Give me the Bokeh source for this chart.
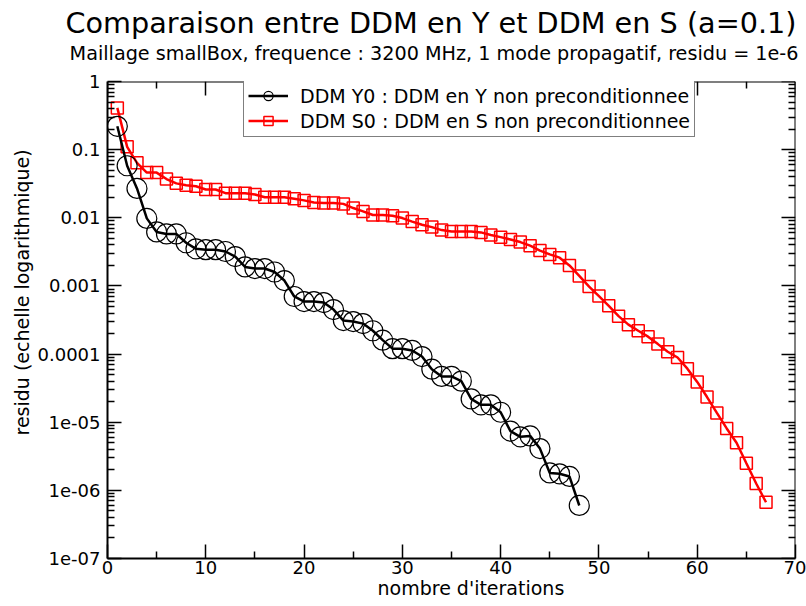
from bokeh.plotting import figure
from bokeh.models import (Range1d, LogAxis, LinearAxis, FixedTicker, CustomJSTickFormatter,
                          Legend, LegendItem, ColumnDataSource, LogScale, Title)
from bokeh.embed import file_html
from bokeh.resources import INLINE

# ---------------- data ----------------
iter_y0 = list(range(1, 49))
res_y0 = [0.22, 0.058, 0.027, 0.0098, 0.0062, 0.0058, 0.0058, 0.0043, 0.0035, 0.0034,
          0.0034, 0.0032, 0.0027, 0.0019, 0.0018, 0.0018, 0.0016, 0.0012, 0.0007, 0.00059,
          0.00059, 0.00057, 0.00045, 0.00031, 0.0003, 0.00028, 0.00022, 0.00016, 0.00012, 0.00012,
          0.000113, 0.000092, 0.00006, 0.000047, 0.000047, 0.00004, 0.000022, 0.000018, 0.000018, 0.000014,
          7.4e-6, 6.1e-6, 6.3e-6, 4.1e-6, 1.8e-6, 1.75e-6, 1.6e-6, 6e-7]

iter_s0 = list(range(1, 68))
res_s0 = [0.41, 0.11, 0.064, 0.046, 0.046, 0.037, 0.032, 0.030, 0.029, 0.026,
          0.026, 0.023, 0.023, 0.023, 0.022, 0.020, 0.020, 0.020, 0.019, 0.018,
          0.0168, 0.0165, 0.0165, 0.016, 0.0139, 0.0124, 0.011, 0.011, 0.0107, 0.0099,
          0.0088, 0.0079, 0.0073, 0.0066, 0.0063, 0.0063, 0.0063, 0.0061, 0.0056, 0.0052,
          0.0048, 0.0044, 0.0039, 0.0033, 0.0029, 0.0026, 0.0020, 0.0014, 0.00098, 0.00071,
          0.00051, 0.00036, 0.00027, 0.00022, 0.00018, 0.00014, 0.000108, 0.000089, 0.000061, 0.000039,
          0.0000234, 0.0000137, 0.0000081, 0.000005, 0.0000025, 0.00000126, 6.7e-7]

label_y0 = "DDM Y0 : DDM en Y non preconditionnee"
label_s0 = "DDM S0 : DDM en S non preconditionnee"

y_ticks = [1e-7, 1e-6, 1e-5, 1e-4, 1e-3, 1e-2, 1e-1, 1.0]
y_tick_labels = ["1e-07", "1e-06", "1e-05", "0.0001", "0.001", "0.01", "0.1", "1"]
x_ticks = [0, 10, 20, 30, 40, 50, 60, 70]
x_minor_ticks = [5, 15, 25, 35, 45, 55, 65]

title_text = "Comparaison entre DDM en Y et DDM en S (a=0.1)"
subtitle_text = "Maillage smallBox, frequence : 3200 MHz, 1 mode propagatif, residu = 1e-6"
x_label = "nombre d'iterations"
y_label = "residu (echelle logarithmique)"

FONT = "DejaVu Sans"
X_MIN, X_MAX = 0, 70
Y_MIN, Y_MAX = 1e-7, 1.0

y_minor = [m * t for t in y_ticks[:-1] for m in range(2, 10)]

p = figure(width=806, height=606, output_backend="svg", toolbar_location=None,
           x_range=Range1d(X_MIN, X_MAX), y_range=Range1d(Y_MIN, Y_MAX),
           y_axis_type=None, x_axis_type=None,
           min_border_left=107, min_border_right=11, min_border_top=81, min_border_bottom=48)
p.y_scale = LogScale()
p.outline_line_color = None
p.xgrid.visible = False
p.ygrid.visible = False
p.background_fill_color = "white"
p.border_fill_color = "white"

ylab_fmt = CustomJSTickFormatter(args=dict(vals=y_ticks, labs=y_tick_labels), code="""
for (let i = 0; i < vals.length; i++) {
  if (Math.abs(Math.log10(tick) - Math.log10(vals[i])) < 1e-6) { return labs[i]; }
}
return "";
""")
blank_fmt = CustomJSTickFormatter(code="return '';")

def style_axis(ax):
    ax.axis_line_color = "black"
    ax.axis_line_width = 2
    ax.major_tick_line_color = "black"
    ax.major_tick_line_width = 1.5
    ax.minor_tick_line_color = "black"
    ax.minor_tick_line_width = 1.5
    ax.major_tick_in = 14
    ax.major_tick_out = 0
    ax.minor_tick_in = 7
    ax.minor_tick_out = 0
    ax.major_label_text_font = FONT
    ax.major_label_text_font_size = "18px"
    ax.major_label_text_color = "black"

yticker = FixedTicker(ticks=y_ticks, minor_ticks=y_minor)
xticker = FixedTicker(ticks=x_ticks, minor_ticks=x_minor_ticks)

left = LogAxis(ticker=yticker, formatter=ylab_fmt)
style_axis(left)
left.major_label_standoff = 7
p.add_layout(left, "left")

right = LogAxis(ticker=yticker, formatter=blank_fmt, fixed_location=X_MAX)
style_axis(right)
right.major_label_text_font_size = "0px"
p.add_layout(right, "right")

bottom = LinearAxis(ticker=xticker)
style_axis(bottom)
bottom.major_label_standoff = 2
p.add_layout(bottom, "below")

# top axis: mirrored ticks on the frame edge
top = LinearAxis(ticker=xticker, formatter=blank_fmt, fixed_location=Y_MAX)
style_axis(top)
top.major_label_text_font_size = "0px"
p.add_layout(top, "above")

# invisible spacer between the frame and the subtitle (white outward ticks at the frame corners)
spacer = LinearAxis(ticker=FixedTicker(ticks=[X_MIN, X_MAX], minor_ticks=[]), formatter=blank_fmt,
                    axis_line_color=None, major_tick_line_color="white",
                    minor_tick_line_color=None, major_tick_line_width=1,
                    major_tick_in=0, major_tick_out=17, minor_tick_in=0, minor_tick_out=0,
                    major_label_text_font_size="0px", major_label_standoff=0)
p.add_layout(spacer, "above")

def make_title(text, size, align, offset, standoff, valign="bottom"):
    return Title(text=text, align=align, offset=offset, standoff=standoff,
                 vertical_align=valign, text_font=FONT, text_font_size=size,
                 text_font_style="normal", text_color="black")

p.add_layout(make_title(subtitle_text, "19.2px", "right", -3, 0), "above")
p.add_layout(make_title(title_text, "28.7px", "right", -1, 0), "above")
p.add_layout(make_title(x_label, "19px", "left", 270, 0, valign="top"), "below")
p.add_layout(make_title(y_label, "19px", "left", 123, 4), "left")

src_y = ColumnDataSource(dict(x=iter_y0, y=res_y0))
src_s = ColumnDataSource(dict(x=iter_s0, y=res_s0))

ls = p.line("x", "y", source=src_s, line_color="red", line_width=2.5)
ss = p.scatter("x", "y", source=src_s, marker="square", size=12, fill_color=None,
               line_color="red", line_width=1.5)
ly = p.line("x", "y", source=src_y, line_color="black", line_width=2.5)
sy = p.scatter("x", "y", source=src_y, marker="circle", size=20, fill_color=None,
               line_color="black", line_width=1.2)

legend = Legend(items=[LegendItem(label=label_y0, renderers=[ly, sy]),
                       LegendItem(label=label_s0, renderers=[ls, ss])],
                location=(136, 421), margin=0, padding=4, spacing=2,
                glyph_width=40, glyph_height=23, label_height=23, label_standoff=12,
                label_text_font=FONT, label_text_font_size="19px", label_text_color="black",
                border_line_color="black", border_line_width=1.5,
                background_fill_color="white", background_fill_alpha=1.0)
p.add_layout(legend, "center")

open("out.html", "w").write(file_html(p, INLINE))
